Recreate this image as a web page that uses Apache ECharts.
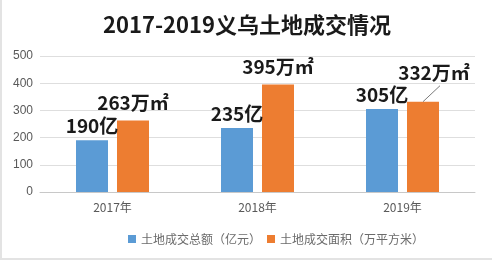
<!DOCTYPE html>
<html><head><meta charset="utf-8">
<script src="https://cdn.jsdelivr.net/npm/echarts@6/dist/echarts.min.js"></script>
<style>
html,body{margin:0;padding:0;background:#fff;}
#c{width:490px;height:258px;border-left:2px solid #e3e3e3;border-bottom:2px solid #e3e3e3;}
</style></head>
<body><div id="c"></div>
<script>
const titleText = '2017-2019义乌土地成交情况';
const categories = ['2017年', '2018年', '2019年'];
const seriesNames = ['土地成交总额（亿元）', '土地成交面积（万平方米）'];
const totalAmount = [190, 235, 305];
const totalArea = [263, 395, 332];
const yTicks = [0, 100, 200, 300, 400, 500];

const chart = echarts.init(document.getElementById('c'));
const font = '"Noto Sans CJK SC", "Noto Sans", sans-serif';
const BAR_W = 32, BAR_GAP = 9;
const leaderIndex = 2;
chart.setOption({
  animation: false,
  textStyle: { fontFamily: font },
  title: {
    text: titleText, left: 'center', top: 9,
    textStyle: { fontSize: 22, fontWeight: 'bold', color: '#1a1a1a', fontFamily: font }
  },
  legend: {
    data: seriesNames, left: 121, top: 228,
    itemWidth: 8, itemHeight: 8, itemGap: 6,
    icon: 'rect',
    textStyle: { fontSize: 12, color: '#6b6b6b', fontFamily: font }
  },
  grid: { left: 38, right: 17, top: 56, bottom: 66 },
  xAxis: {
    type: 'category', data: categories,
    axisLine: { lineStyle: { color: '#c8c8c8' } },
    axisTick: { show: false },
    axisLabel: { color: '#595959', fontSize: 12, margin: 9, fontFamily: font }
  },
  yAxis: {
    type: 'value', min: yTicks[0], max: yTicks[yTicks.length - 1], interval: 100,
    axisLine: { show: false }, axisTick: { show: false },
    axisLabel: { color: '#595959', fontSize: 12, margin: 7, fontFamily: 'Liberation Sans, Arial, sans-serif' },
    splitLine: { lineStyle: { color: '#dedede' } }
  },
  series: [
    {
      name: seriesNames[0], type: 'bar', data: totalAmount,
      barWidth: BAR_W, barGap: (BAR_GAP / BAR_W * 100) + '%',
      itemStyle: { color: '#5b9bd5' },
      label: {
        show: true, position: 'top', distance: 5,
        formatter: '{c}亿', fontSize: 19, fontWeight: 'bold', color: '#1a1a1a', fontFamily: font
      }
    },
    {
      name: seriesNames[1], type: 'bar', data: totalArea,
      barWidth: BAR_W,
      itemStyle: { color: '#ed7d31' },
      label: {
        show: true, position: 'top', distance: 8,
        formatter: '{c}万㎡', fontSize: 19, fontWeight: 'bold', color: '#1a1a1a', fontFamily: font
      },
      labelLayout: function (p) {
        return p.dataIndex === leaderIndex ? { dx: 11, dy: -11 } : {};
      }
    },
    {
      // leader line from the top of the 2019 area bar to its displaced label
      type: 'custom', silent: true, z: 10,
      data: [[leaderIndex, totalArea[leaderIndex]]],
      encode: { x: 0, y: 1 },
      renderItem: function (params, api) {
        const pt = api.coord([api.value(0), api.value(1)]);
        const x0 = pt[0] + (BAR_W + BAR_GAP) / 2;
        const y0 = pt[1];
        return {
          type: 'line',
          shape: { x1: x0, y1: y0, x2: x0 + 17, y2: y0 - 16 },
          style: { stroke: '#7a7a7a', lineWidth: 1 }
        };
      }
    }
  ]
});
</script></body></html>
